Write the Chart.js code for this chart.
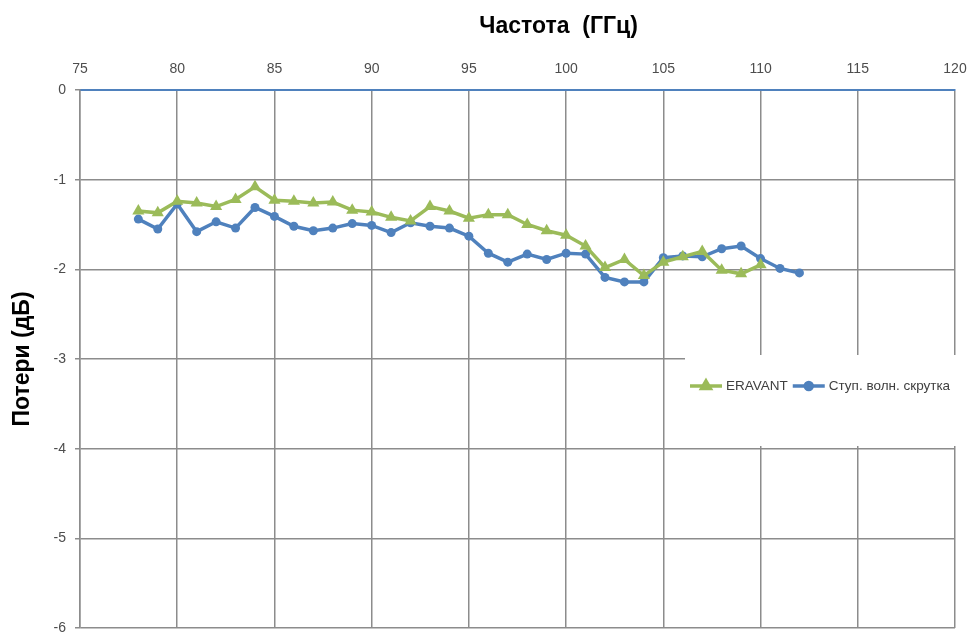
<!DOCTYPE html>
<html><head><meta charset="utf-8">
<script src="https://cdn.jsdelivr.net/npm/chart.js@4.4.1/dist/chart.umd.min.js"></script>
<style>html,body{margin:0;padding:0;background:#fff;}#wrap{position:relative;width:972px;height:635px;}</style>
</head><body><div id="wrap"><canvas id="c" width="972" height="635" style="width:972px;height:635px"></canvas></div>
<script>
const freqEravant = [78,79,80,81,82,83,84,85,86,87,88,89,90,91,92,93,94,95,96,97,98,99,100,101,102,103,104,105,106,107,108,109,110];
const lossEravant = [-1.35,-1.37,-1.24,-1.26,-1.30,-1.22,-1.08,-1.23,-1.24,-1.26,-1.25,-1.34,-1.36,-1.42,-1.46,-1.30,-1.35,-1.43,-1.39,-1.39,-1.50,-1.57,-1.62,-1.74,-1.98,-1.89,-2.07,-1.92,-1.86,-1.80,-2.01,-2.05,-1.95];
const freqTwist = [78,79,80,81,82,83,84,85,86,87,88,89,90,91,92,93,94,95,96,97,98,99,100,101,102,103,104,105,106,107,108,109,110,111,112];
const lossTwist = [-1.44,-1.55,-1.27,-1.58,-1.47,-1.54,-1.31,-1.41,-1.52,-1.57,-1.54,-1.49,-1.51,-1.59,-1.48,-1.52,-1.54,-1.63,-1.82,-1.92,-1.83,-1.89,-1.82,-1.83,-2.09,-2.14,-2.14,-1.87,-1.85,-1.86,-1.77,-1.74,-1.88,-1.99,-2.04];
const xTicks = [75,80,85,90,95,100,105,110,115,120];
const yTicks = [0,-1,-2,-3,-4,-5,-6];
const seriesNames = ['ERAVANT','Ступ. волн. скрутка'];
const xTitle = 'Частота  (ГГц)';
const yTitle = 'Потери (дБ)';

const GREEN = '#9BBB59', BLUE = '#4F81BD', GRID = '#8c8c8c', TXT = '#4d4d4d';
const FONT = "'Liberation Sans', Arial, sans-serif";

const toXY = (xs, ys) => xs.map((x, i) => ({x, y: ys[i]}));

const xTitlePlugin = {
  id: 'xTitlePlugin',
  afterDraw(chart) {
    const ctx = chart.ctx, a = chart.chartArea;
    ctx.save();
    ctx.font = 'bold 23px ' + FONT;
    ctx.fillStyle = '#000';
    ctx.textAlign = 'center';
    ctx.textBaseline = 'middle';
    ctx.fillText(xTitle, a.left + (a.right - a.left) * 0.547, 27);
    ctx.restore();
  }
};

const legendBox = {
  id: 'legendBox',
  afterDraw(chart) {
    const ctx = chart.ctx;
    const bx = 685, by = 355, bw = 972 - 685, bh = 91;
    ctx.save();
    ctx.fillStyle = '#fff';
    ctx.fillRect(bx, by, bw, bh);
    const cy = 386;
    ctx.font = '13.5px ' + FONT;
    ctx.textBaseline = 'middle';
    ctx.textAlign = 'left';
    let x = 690;
    chart.data.datasets.forEach((ds) => {
      ctx.strokeStyle = ds.borderColor;
      ctx.lineWidth = 3.5;
      ctx.beginPath(); ctx.moveTo(x, cy); ctx.lineTo(x + 32, cy); ctx.stroke();
      Chart.helpers.drawPoint(ctx, {pointStyle: ds.pointStyle, radius: ds.pointStyle === 'triangle' ? 5 : 3.5, rotation: 0, borderWidth: 1}, x + 16, cy);
      ctx.fillStyle = ds.borderColor;
      ctx.fill();
      ctx.fillStyle = '#404040';
      ctx.fillText(ds.label, x + 36, cy);
      x += 36 + ctx.measureText(ds.label).width + 5;
    });
    ctx.restore();
  }
};

new Chart(document.getElementById('c'), {
  type: 'line',
  data: {
    datasets: [
      {label: seriesNames[0], data: toXY(freqEravant, lossEravant), borderColor: GREEN, backgroundColor: GREEN,
       borderWidth: 3.5, pointStyle: 'triangle', pointRadius: 7, pointBorderWidth: 0, tension: 0},
      {label: seriesNames[1], data: toXY(freqTwist, lossTwist), borderColor: BLUE, backgroundColor: BLUE,
       borderWidth: 3.5, pointStyle: 'circle', pointRadius: 4.5, pointBorderWidth: 0, tension: 0}
    ]
  },
  options: {
    responsive: false,
    devicePixelRatio: 1,
    animation: false,
    layout: {padding: {left: 0, right: 17, top: 0, bottom: 7}},
    plugins: {legend: {display: false}, tooltip: {enabled: false}},
    scales: {
      x: {
        type: 'linear', position: 'top', min: 75, max: 120,
        afterFit: s => { s.height = 90; s.paddingLeft = 0; s.paddingRight = 0; },
        afterBuildTicks: s => { s.ticks = xTicks.map(v => ({value: v})); },
        grid: {color: GRID, lineWidth: 1.5, drawTicks: false},
        border: {color: BLUE, width: 2},
        ticks: {padding: 12, color: TXT, font: {family: FONT, size: 14}, maxRotation: 0}
      },
      y: {
        type: 'linear', min: -6, max: 0,
        afterFit: s => { s.width = 80; s.paddingTop = 0; s.paddingBottom = 0; },
        afterBuildTicks: s => { s.ticks = yTicks.map(v => ({value: v})); },
        grid: {color: GRID, lineWidth: 1.5, drawTicks: true, tickLength: 5},
        border: {color: GRID, width: 1.5},
        ticks: {padding: 9, color: TXT, font: {family: FONT, size: 14}},
        title: {display: true, text: yTitle, color: '#000', font: {family: FONT, size: 23, weight: 'bold'}, padding: {top: 9, bottom: 0}}
      }
    }
  },
  plugins: [xTitlePlugin, legendBox]
});
</script></body></html>
